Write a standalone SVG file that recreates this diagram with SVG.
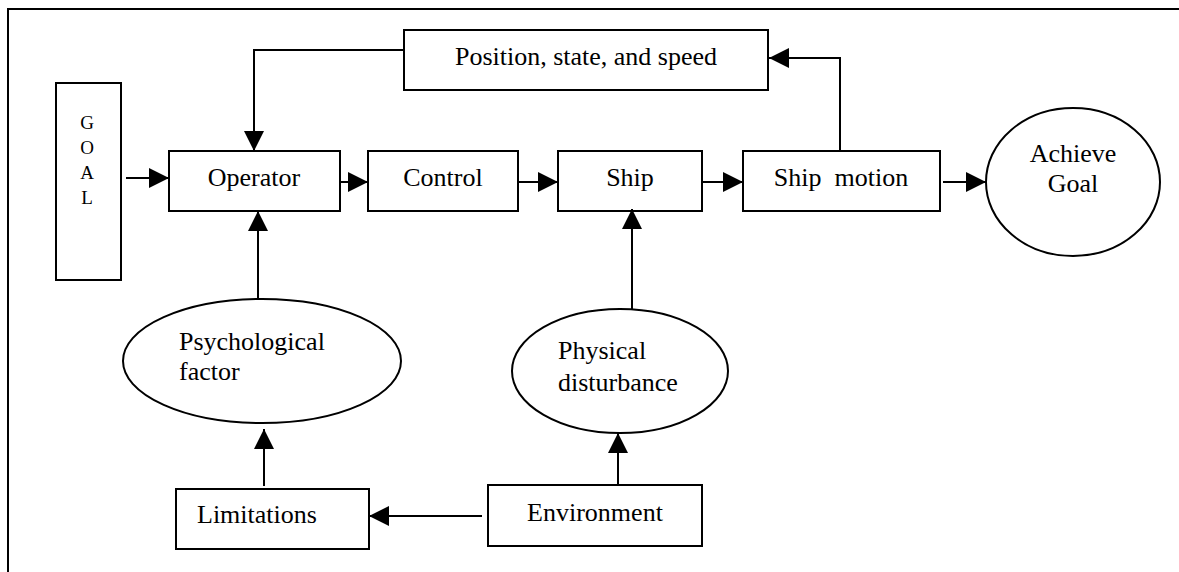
<svg xmlns="http://www.w3.org/2000/svg" width="1179" height="572" viewBox="0 0 1179 572">
  <style>
    .box { fill: #fff; stroke: #000; stroke-width: 2; }
    .lbl { font-family: "Liberation Serif", "Times New Roman", serif; font-size: 26px; fill: #000; }
    .mid { text-anchor: middle; }
    .goal { font-family: "Liberation Serif", "Times New Roman", serif; font-size: 19px; fill: #000; text-anchor: middle; }
    .wire { fill: none; stroke: #000; stroke-width: 2; marker-end: url(#head); }
    .plain { fill: none; stroke: #000; stroke-width: 2; }
  </style>
  <defs>
    <marker id="head" viewBox="0 0 20 20" refX="20" refY="10" markerWidth="21" markerHeight="20" markerUnits="userSpaceOnUse" orient="auto">
      <path d="M0,0 L20,10 L0,20 Z" fill="#000"/>
    </marker>
  </defs>

  <rect width="1179" height="572" fill="#fff"/>
  <!-- outer frame: top and left edges -->
  <path class="plain" d="M8,572 L8,9 L1179,9"/>

  <g id="goal">
    <rect class="box" x="56" y="83" width="65" height="197"/>
    <text class="goal" x="87" y="129">G</text>
    <text class="goal" x="87" y="154">O</text>
    <text class="goal" x="87" y="179">A</text>
    <text class="goal" x="87" y="204">L</text>
  </g>

  <g id="operator">
    <rect class="box" x="169" y="151" width="171" height="60"/>
    <text class="lbl mid" x="254" y="186">Operator</text>
  </g>

  <g id="control">
    <rect class="box" x="368" y="151" width="150" height="60"/>
    <text class="lbl mid" x="443" y="186">Control</text>
  </g>

  <g id="ship">
    <rect class="box" x="558" y="151" width="144" height="60"/>
    <text class="lbl mid" x="630" y="186">Ship</text>
  </g>

  <g id="ship-motion">
    <rect class="box" x="743" y="151" width="197" height="60"/>
    <text class="lbl mid" x="841" y="186" xml:space="preserve">Ship  motion</text>
  </g>

  <g id="achieve-goal">
    <ellipse class="box" cx="1073" cy="182" rx="87" ry="74"/>
    <text class="lbl mid" x="1073" y="162">Achieve</text>
    <text class="lbl mid" x="1073" y="192">Goal</text>
  </g>

  <g id="position">
    <rect class="box" x="404" y="30" width="364" height="60"/>
    <text class="lbl mid" x="586" y="65">Position, state, and speed</text>
  </g>

  <g id="psychological">
    <ellipse class="box" cx="262" cy="361" rx="139" ry="62"/>
    <text class="lbl" x="179" y="350">Psychological</text>
    <text class="lbl" x="179" y="380">factor</text>
  </g>

  <g id="physical">
    <ellipse class="box" cx="620" cy="371" rx="108" ry="62"/>
    <text class="lbl" x="558" y="359">Physical</text>
    <text class="lbl" x="558" y="391">disturbance</text>
  </g>

  <g id="limitations">
    <rect class="box" x="176" y="489" width="193" height="60"/>
    <text class="lbl" x="197" y="523">Limitations</text>
  </g>

  <g id="environment">
    <rect class="box" x="488" y="485" width="214" height="61"/>
    <text class="lbl mid" x="595" y="521">Environment</text>
  </g>

  <g id="connectors">
    <path class="wire" d="M126,178 L169,178"/>
    <path class="wire" d="M340,182 L368,182"/>
    <path class="wire" d="M518,182 L558,182"/>
    <path class="wire" d="M703,182 L743,182"/>
    <path class="wire" d="M943,182 L986,182"/>
    <path class="wire" d="M840,151 L840,58 L769,58"/>
    <path class="wire" d="M404,50 L254,50 L254,151"/>
    <path class="wire" d="M258,299 L258,211"/>
    <path class="wire" d="M632,309 L632,209"/>
    <path class="wire" d="M264,486 L264,429"/>
    <path class="wire" d="M618,485 L618,433"/>
    <path class="wire" d="M482,516 L369,516"/>
  </g>
</svg>
